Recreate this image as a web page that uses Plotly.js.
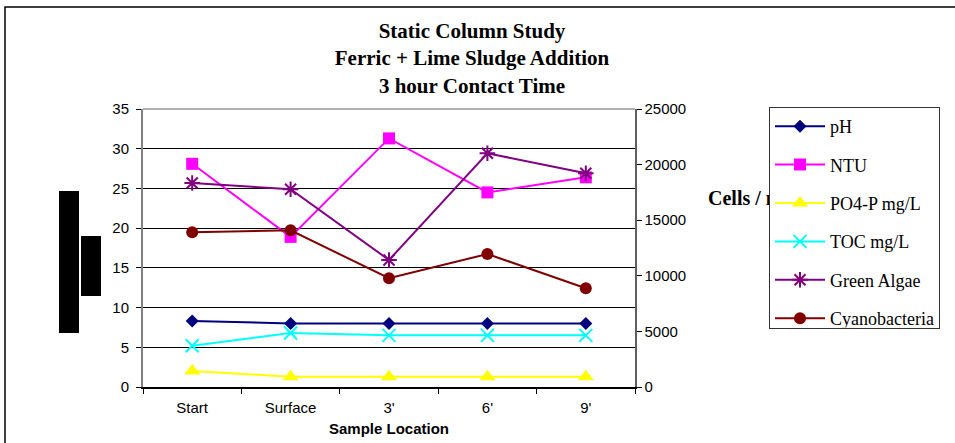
<!DOCTYPE html>
<html><head><meta charset="utf-8">
<script src="https://cdn.plot.ly/plotly-3.0.1.min.js"></script>
<style>html,body{margin:0;padding:0;background:#fff}</style>
</head><body>
<div id="chart" style="width:955px;height:443px"></div>
<script>
const categories = ["Start", "Surface", "3'", "6'", "9'"];
const pH = [8.3, 8.0, 8.0, 8.0, 8.0];
const NTU = [28.1, 18.9, 31.3, 24.5, 26.4];
const PO4P = [2.0, 1.3, 1.3, 1.3, 1.3];
const TOC = [5.2, 6.8, 6.5, 6.5, 6.5];
const greenAlgae = [18350, 17780, 11420, 21020, 19220];
const cyanobacteria = [13910, 14090, 9780, 11960, 8880];
const leftTicks = [0, 5, 10, 15, 20, 25, 30, 35];
const rightTicks = [0, 5000, 10000, 15000, 20000, 25000];

const serif = "Liberation Serif, Times New Roman, serif";
const sans = "Liberation Sans, Arial, sans-serif";

function tr(name, y, color, symbol, size, axis, group, lw) {
  return {
    type: "scatter", mode: "lines+markers", name: name, x: categories, y: y,
    yaxis: axis, legendgroup: group,
    line: {color: color, width: 2},
    marker: {color: color, symbol: symbol, size: size, line: {color: color, width: lw || 0}}
  };
}

const data = [
  tr("pH", pH, "#000080", "diamond", 10, "y", "a"),
  tr("NTU", NTU, "#FF00FF", "square", 12, "y", "b"),
  tr("PO4-P mg/L", PO4P, "#FFFF00", "triangle-up", 14, "y", "c"),
  tr("TOC mg/L", TOC, "#00FFFF", "x-thin-open", 13, "y", "d", 2),
  tr("Green Algae", greenAlgae, "#800080", "asterisk-open", 13, "y2", "e", 2),
  tr("Cyanobacteria", cyanobacteria, "#800000", "circle", 12, "y2", "f")
];

const L = 143, R = 635, T = 109, B = 387, W = 955, H = 443;
const px = v => (v - L) / (R - L);
const py = v => (B - v) / (B - T);

const layout = {
  width: W, height: H,
  margin: {l: L, r: W - R, t: T, b: H - B, pad: 0},
  paper_bgcolor: "#fff", plot_bgcolor: "#fff",
  showlegend: true,
  title: {
    text: "<b>Static Column Study<br>Ferric + Lime Sludge Addition<br>3 hour Contact Time</b>",
    font: {family: serif, size: 21, color: "#000"},
    x: 472 / W, xanchor: "center", y: 1 - 38 / H, yanchor: "middle", yref: "container"
  },
  xaxis: {
    type: "category", range: [-0.5, 4.5],
    tickson: "boundaries", ticks: "outside", ticklen: 5, tickcolor: "#000",
    ticklabelstandoff: 6,
    showline: true, linecolor: "#000", linewidth: 1.5, showgrid: false,
    tickfont: {family: sans, size: 15, color: "#000"},
    title: {text: "<b>Sample Location</b>", font: {family: sans, size: 15, color: "#000"}, standoff: 9}
  },
  yaxis: {
    range: [0, 35], tickvals: leftTicks, ticks: "outside", ticklen: 5, tickcolor: "#000",
    ticklabelstandoff: 4,
    showline: true, linecolor: "#808080", linewidth: 2, mirror: false,
    showgrid: true, gridcolor: "#000", gridwidth: 1, zeroline: false,
    tickfont: {family: sans, size: 15, color: "#000"}
  },
  yaxis2: {
    overlaying: "y", side: "right", range: [0, 25000], tickvals: rightTicks, tickformat: "d",
    ticks: "outside", ticklen: 5, tickcolor: "#000",
    showline: true, linecolor: "#606060", linewidth: 1.5, showgrid: false, zeroline: false,
    tickfont: {family: sans, size: 15, color: "#000"}
  },
  legend: {
    x: px(769), xanchor: "left", y: py(107), yanchor: "top",
    bgcolor: "#fff", bordercolor: "#333", borderwidth: 1,
    font: {family: serif, size: 18, color: "#000"},
    traceorder: "grouped", tracegroupgap: 12, itemwidth: 50
  },
  annotations: [
    {text: "<b>Cells / mL</b>", x: px(706), y: py(198), xref: "paper", yref: "paper",
     xanchor: "left", yanchor: "middle", showarrow: false,
     font: {family: serif, size: 20, color: "#000"}}
  ],
  shapes: [
    {type: "rect", xref: "paper", yref: "paper", x0: px(5), x1: px(962), y0: py(452), y1: py(7),
     line: {color: "#000", width: 1.5}, fillcolor: "rgba(0,0,0,0)", layer: "below"},
    {type: "line", xref: "paper", yref: "paper", x0: 0, x1: 1, y0: 1, y1: 1,
     line: {color: "#999", width: 1.5}},
    {type: "rect", xref: "paper", yref: "paper", x0: px(59), x1: px(79), y0: py(333), y1: py(191),
     line: {width: 0}, fillcolor: "#000"},
    {type: "rect", xref: "paper", yref: "paper", x0: px(81), x1: px(101), y0: py(296), y1: py(236),
     line: {width: 0}, fillcolor: "#000"}
  ]
};

Plotly.newPlot("chart", data, layout, {displayModeBar: false, staticPlot: true}).then(function (gd) {
  // keep the legend box above the axis-title text, as in the reference
  const leg = gd.querySelector("g.legend");
  if (leg && leg.parentNode) leg.parentNode.appendChild(leg);
});
</script>
</body></html>
